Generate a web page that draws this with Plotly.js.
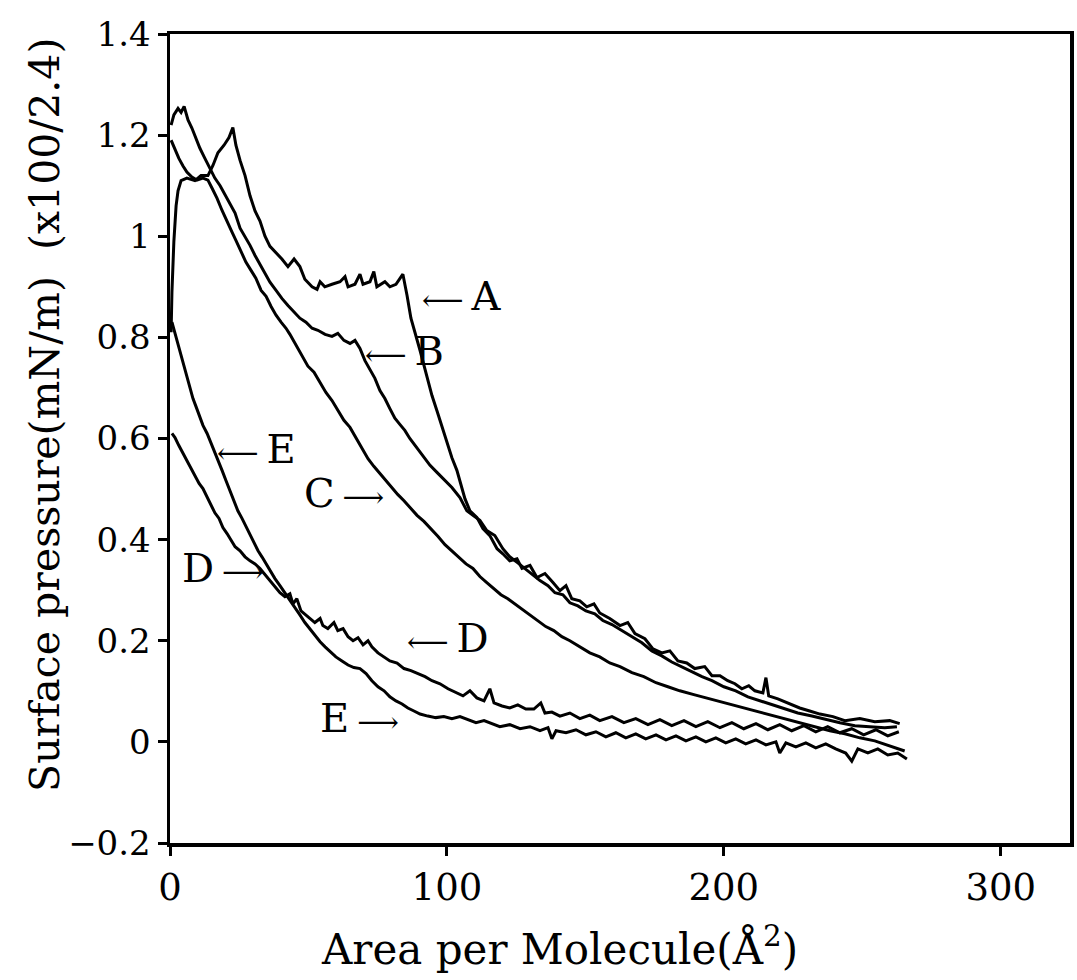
<!DOCTYPE html>
<html>
<head>
<meta charset="utf-8">
<script src="https://cdn.plot.ly/plotly-3.0.1.min.js"></script>
<style>html,body{margin:0;padding:0;background:#fff;}#chart{width:1077px;height:980px;}</style>
</head>
<body>
<div id="chart"></div>
<script>
// ---- data ----
const xTickVals = [0, 100, 200, 300];
const xTickText = ["0", "100", "200", "300"];
const yTickVals = [-0.2, 0, 0.2, 0.4, 0.6, 0.8, 1, 1.2, 1.4];
const yTickText = ["\u22120.2", "0", "0.2", "0.4", "0.6", "0.8", "1", "1.2", "1.4"];

const aX = [0.4,0.7,1.4,2.2,2.9,4.0,6.1,9.0,11.2,13.7,15.5,17.3,19.5,21.3,22.7,23.8,25.3,27.1,28.9,30.7,32.5,34.3,36.1,37.9,40.4,42.6,44.8,46.9,48.7,51.3,53.1,54.2,55.9,58.5,61.4,63.2,64.3,66.8,68.6,69.7,72.2,73.6,74.7,77.6,79.4,81.6,84.1,85.6,87.0,90.3,92.8,94.6,96.4,98.6,100.0,101.8,103.6,105.1,106.5,108.3,110.8,113.0,115.5,118.1,120.2,122.7,125.3,127.1,130.0,132.5,135.4,138.3,140.8,143.0,145.1,148.0,150.5,153.1,155.2,158.8,162.5,165.3,167.9,171.5,174.4,177.6,180.5,183.4,186.6,189.5,193.1,195.7,198.6,201.4,204.0,206.5,209.0,211.2,214.1,215.2,216.2,219.5,223.8,227.4,231.0,234.7,239.4,243.7,249.1,254.5,259.9,263.5];
const aY = [0.81,0.89,0.99,1.06,1.09,1.11,1.115,1.11,1.12,1.12,1.14,1.165,1.18,1.195,1.215,1.18,1.15,1.12,1.08,1.05,1.03,1.0,0.98,0.97,0.955,0.94,0.955,0.94,0.915,0.90,0.895,0.91,0.90,0.905,0.91,0.92,0.90,0.905,0.925,0.905,0.91,0.93,0.90,0.91,0.90,0.905,0.925,0.883,0.838,0.774,0.719,0.685,0.655,0.616,0.596,0.562,0.537,0.507,0.481,0.457,0.444,0.422,0.408,0.382,0.372,0.358,0.362,0.343,0.349,0.325,0.333,0.315,0.299,0.309,0.283,0.279,0.267,0.273,0.255,0.244,0.230,0.236,0.214,0.204,0.184,0.176,0.180,0.160,0.156,0.145,0.149,0.131,0.131,0.121,0.115,0.105,0.111,0.101,0.097,0.127,0.091,0.085,0.075,0.067,0.061,0.055,0.050,0.042,0.046,0.040,0.042,0.036];

const bX = [0.4,1.4,2.9,4.0,5.1,6.5,7.9,9.4,10.8,12.6,14.4,16.2,18.1,19.9,21.7,23.5,25.3,27.1,28.9,30.7,32.5,34.3,36.1,38.3,40.4,42.6,44.8,46.9,49.1,51.3,53.4,56.0,58.5,60.6,62.8,65.0,66.8,68.6,70.4,72.2,74.0,75.8,77.6,79.4,81.2,83.0,84.8,86.6,88.8,91.3,93.9,96.4,99.3,101.8,104.7,107.2,109.4,111.9,114.4,117.3,120.2,122.7,125.6,128.2,131.0,133.6,136.5,139.0,141.9,144.4,147.3,150.2,153.4,156.3,159.6,163.2,166.8,170.4,174.0,177.6,181.2,184.8,188.4,192.1,195.7,200.0,204.3,208.7,213.0,217.3,222.0,226.7,231.8,236.8,241.9,247.3,252.7,258.1,262.5];
const bY = [1.22,1.24,1.253,1.245,1.257,1.23,1.214,1.194,1.174,1.154,1.135,1.115,1.10,1.081,1.065,1.046,1.016,1.0,0.982,0.962,0.945,0.929,0.909,0.893,0.877,0.863,0.850,0.838,0.830,0.818,0.814,0.806,0.802,0.808,0.794,0.788,0.794,0.778,0.754,0.735,0.719,0.695,0.679,0.659,0.640,0.628,0.616,0.600,0.584,0.564,0.547,0.533,0.517,0.503,0.483,0.457,0.448,0.438,0.418,0.408,0.382,0.366,0.354,0.343,0.331,0.319,0.309,0.295,0.291,0.275,0.269,0.259,0.253,0.240,0.232,0.220,0.208,0.196,0.180,0.170,0.158,0.149,0.139,0.129,0.121,0.109,0.101,0.089,0.081,0.073,0.065,0.057,0.051,0.044,0.038,0.032,0.030,0.028,0.030];

const cX = [0.4,1.8,3.2,4.7,6.1,7.9,9.7,11.9,13.7,15.2,17.0,18.8,20.6,22.4,23.8,25.6,27.4,29.2,31.0,32.9,34.7,36.5,38.3,40.1,41.9,43.3,45.5,47.7,49.8,52.0,54.2,56.3,58.5,60.6,62.8,65.0,67.1,69.3,71.5,73.6,75.8,78.0,80.1,82.3,84.5,86.6,89.2,91.7,94.2,96.8,99.3,101.8,104.3,106.9,109.4,111.9,114.4,117.0,119.5,122.0,124.5,127.1,130.0,132.9,135.7,138.6,141.5,144.4,148.0,151.6,155.2,158.8,162.5,166.8,171.1,175.5,179.8,184.1,189.5,194.9,200.4,205.8,211.2,216.6,222.0,227.4,232.9,238.3,243.7,249.1,254.5,259.9,265.3];
const cY = [1.19,1.17,1.154,1.139,1.127,1.117,1.111,1.115,1.111,1.095,1.075,1.051,1.028,1.008,0.992,0.972,0.949,0.933,0.917,0.893,0.881,0.861,0.844,0.830,0.818,0.806,0.784,0.762,0.743,0.731,0.711,0.691,0.675,0.655,0.636,0.622,0.602,0.582,0.560,0.545,0.531,0.515,0.503,0.489,0.477,0.463,0.448,0.436,0.422,0.406,0.390,0.378,0.366,0.352,0.343,0.327,0.315,0.303,0.291,0.283,0.273,0.263,0.251,0.240,0.228,0.220,0.208,0.200,0.188,0.176,0.168,0.156,0.149,0.137,0.129,0.117,0.109,0.101,0.093,0.085,0.077,0.069,0.061,0.053,0.046,0.038,0.030,0.022,0.016,0.008,0.002,-0.008,-0.018];

const dX = [0.7,1.8,3.2,4.7,6.1,7.6,9.0,10.5,11.9,13.4,14.8,16.2,17.7,19.1,20.6,22.0,23.5,25.3,27.1,28.9,30.7,32.5,34.3,36.1,37.9,39.7,41.5,43.3,44.4,45.8,47.3,49.1,50.5,52.3,54.2,55.2,57.0,59.2,60.6,62.5,64.3,66.1,67.9,69.7,71.5,72.9,75.1,77.3,79.4,82.0,84.5,87.0,89.5,92.1,94.6,97.5,100.4,103.2,105.8,108.3,110.8,113.4,115.5,117.0,119.9,122.7,125.6,128.5,131.4,133.9,135.4,137.9,140.8,144.4,148.0,151.6,155.2,159.6,163.9,168.2,172.6,176.9,181.2,185.6,189.9,194.2,198.6,202.9,207.2,211.6,215.9,220.2,224.5,228.9,233.2,237.5,241.9,246.2,250.5,254.9,259.2,263.2];
const dY = [0.61,0.602,0.586,0.570,0.556,0.541,0.525,0.511,0.501,0.485,0.467,0.453,0.442,0.424,0.412,0.398,0.386,0.378,0.366,0.358,0.352,0.343,0.331,0.319,0.307,0.295,0.287,0.293,0.273,0.283,0.259,0.250,0.244,0.236,0.244,0.230,0.224,0.236,0.220,0.224,0.208,0.200,0.206,0.192,0.200,0.188,0.176,0.168,0.160,0.156,0.145,0.141,0.135,0.129,0.121,0.115,0.105,0.097,0.091,0.101,0.087,0.081,0.105,0.077,0.071,0.067,0.073,0.065,0.065,0.077,0.057,0.059,0.051,0.057,0.046,0.053,0.042,0.050,0.038,0.046,0.034,0.044,0.032,0.042,0.030,0.040,0.028,0.038,0.026,0.036,0.024,0.034,0.022,0.032,0.020,0.030,0.018,0.026,0.014,0.024,0.012,0.020];

const eX = [0.7,1.8,2.9,4.0,5.1,6.1,7.2,8.3,9.4,10.5,11.9,13.4,14.8,15.9,17.3,18.8,20.2,21.7,23.1,24.5,26.0,27.4,28.9,30.3,31.8,33.2,34.7,36.1,37.9,39.7,41.5,43.3,45.1,46.9,48.7,50.5,52.3,54.2,56.0,57.8,59.9,62.1,64.3,66.4,68.6,70.8,72.9,75.1,77.3,79.4,81.6,83.8,85.9,88.1,90.3,93.1,96.0,98.9,101.8,104.7,107.6,110.5,113.4,116.2,119.1,122.7,126.4,130.0,133.6,136.5,137.9,139.4,143.0,146.6,150.2,153.8,157.4,161.0,164.6,168.2,171.8,175.5,179.1,182.7,186.3,189.9,193.5,197.1,200.7,204.3,207.9,211.6,215.2,218.8,220.2,222.4,226.0,229.6,233.2,236.8,240.4,244.0,246.2,248.4,252.0,255.6,259.2,262.8,266.1];
const eY = [0.83,0.808,0.784,0.764,0.743,0.721,0.699,0.679,0.663,0.646,0.626,0.610,0.592,0.576,0.556,0.537,0.517,0.497,0.477,0.457,0.442,0.426,0.408,0.394,0.378,0.366,0.352,0.339,0.323,0.309,0.295,0.279,0.265,0.251,0.236,0.224,0.210,0.198,0.188,0.178,0.168,0.160,0.152,0.147,0.145,0.135,0.121,0.109,0.101,0.089,0.081,0.075,0.067,0.061,0.055,0.051,0.048,0.050,0.046,0.050,0.044,0.038,0.042,0.036,0.030,0.034,0.026,0.030,0.022,0.028,0.006,0.022,0.018,0.024,0.014,0.020,0.010,0.018,0.008,0.016,0.006,0.014,0.004,0.012,0.002,0.010,0.0,0.008,-0.002,0.006,-0.004,0.004,-0.006,0.0,-0.022,-0.002,-0.010,-0.002,-0.012,-0.004,-0.014,-0.022,-0.038,-0.014,-0.022,-0.014,-0.026,-0.022,-0.034];

// curve labels: letter, arrow direction (-1 = arrow on the left pointing left), anchor point (data units)
const labelLetter = ["A", "B", "E", "C", "D", "D", "E"];
const labelDir = [-1, -1, -1, 1, 1, -1, 1];
const labelX = [90.3, 69.7, 16.2, 47.7, 3.6, 84.8, 53.4];
const labelY = [0.881, 0.774, 0.580, 0.493, 0.343, 0.206, 0.048];

const xTitle = "Area per Molecule(\u00c5<sup>2</sup>)";
const yTitle = "Surface pressure(mN/m)\u00a0\u00a0(x100/2.4)";

// ---- chart ----
const FONT = "DejaVu Serif, Liberation Serif, serif";
const lineStyle = {color: "#000", width: 3};
const series = [[aX, aY], [bX, bY], [cX, cY], [dX, dY], [eX, eY]];
const traces = series.map(s => ({
  x: s[0], y: s[1], type: "scatter", mode: "lines",
  line: lineStyle, showlegend: false, hoverinfo: "skip"
}));

const LARR = "<span style='font-size:29px'>\u27f5</span>";
const RARR = "<span style='font-size:29px'>\u27f6</span>";
const annotations = labelLetter.map((t, i) => ({
  x: labelX[i], y: labelY[i], xref: "x", yref: "y",
  text: labelDir[i] < 0 ? LARR + "\u2009" + t : t + "\u2009" + RARR,
  showarrow: false, xanchor: "left", yanchor: "middle",
  font: {family: FONT, size: 40, color: "#000"}
}));
annotations.push({
  x: 0.433, y: -0.128, xref: "paper", yref: "paper",
  text: xTitle, showarrow: false, xanchor: "center", yanchor: "middle",
  font: {family: FONT, size: 42, color: "#000"}
});
annotations.push({
  x: -0.139, y: 0.529, xref: "paper", yref: "paper",
  text: yTitle, showarrow: false, xanchor: "center", yanchor: "middle",
  textangle: -90,
  font: {family: FONT, size: 41, color: "#000"}
});

const axisCommon = {
  showline: true, mirror: true, linecolor: "#000", linewidth: 3.5,
  ticks: "outside", ticklen: 9, tickwidth: 3, tickcolor: "#000",
  showgrid: false, zeroline: false
};

const layout = {
  width: 1077, height: 980,
  margin: {l: 170, r: 7, t: 34, b: 137},
  paper_bgcolor: "#fff", plot_bgcolor: "#fff",
  xaxis: Object.assign({}, axisCommon, {
    range: [0, 325], tickmode: "array", tickvals: xTickVals, ticktext: xTickText,
    tickfont: {family: FONT, size: 37, color: "#000"}
  }),
  yaxis: Object.assign({}, axisCommon, {
    range: [-0.2, 1.4], tickmode: "array", tickvals: yTickVals, ticktext: yTickText,
    tickfont: {family: FONT, size: 34, color: "#000"}
  }),
  annotations: annotations,
  showlegend: false
};

Plotly.newPlot("chart", traces, layout, {staticPlot: true, displayModeBar: false});
</script>
</body>
</html>
